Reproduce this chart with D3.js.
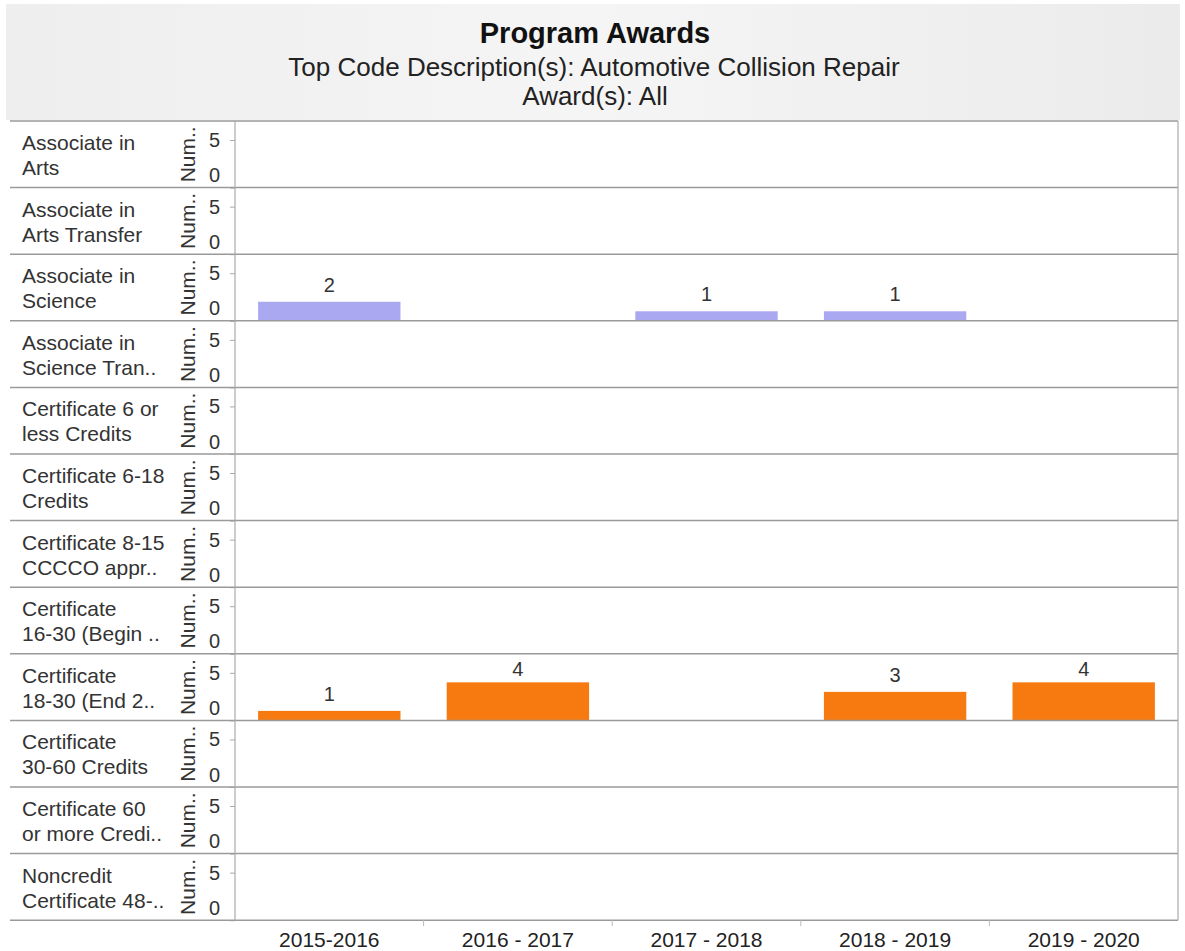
<!DOCTYPE html>
<html>
<head>
<meta charset="utf-8">
<script src="https://cdn.jsdelivr.net/npm/d3@7/dist/d3.min.js"></script>
<style>
  body { margin: 0; background: #fff; }
  text { font-family: "Liberation Sans", Arial, sans-serif; }
</style>
</head>
<body>
<svg width="1185" height="951"></svg>
<script>
// award types (row facets), each row shows counts per academic year
const awards = [
  ["Associate in", "Arts"],
  ["Associate in", "Arts Transfer"],
  ["Associate in", "Science"],
  ["Associate in", "Science Tran.."],
  ["Certificate 6 or", "less Credits"],
  ["Certificate 6-18", "Credits"],
  ["Certificate 8-15", "CCCCO appr.."],
  ["Certificate", "16-30 (Begin .."],
  ["Certificate", "18-30 (End 2.."],
  ["Certificate", "30-60 Credits"],
  ["Certificate 60", "or more Credi.."],
  ["Noncredit", "Certificate 48-.."]
];
const years = ["2015-2016", "2016 - 2017", "2017 - 2018", "2018 - 2019", "2019 - 2020"];
const yTicks = [0, 5];

// counts, null = no bar
const assocScience = [2, null, 1, 1, null];
const cert1830 = [1, 4, null, 3, 4];
const empty = [null, null, null, null, null];
const counts = [empty, empty, assocScience, empty, empty, empty, empty, empty, cert1830, empty, empty, empty];
const rowColors = ["#aba8f2", "#aba8f2", "#aba8f2", "#aba8f2",
  "#f77a10", "#f77a10", "#f77a10", "#f77a10", "#f77a10", "#f77a10", "#f77a10", "#f77a10"];

var svg = d3.select("svg"),
    left = 235, right = 1178,
    top0 = 121, rowH = 66.6;

// header band
var grad = svg.append("defs").append("linearGradient").attr("id", "hdr")
  .attr("x1", 0).attr("x2", 1).attr("y1", 0).attr("y2", 0);
grad.append("stop").attr("offset", "0%").attr("stop-color", "#eeeeee");
grad.append("stop").attr("offset", "50%").attr("stop-color", "#f5f5f5");
grad.append("stop").attr("offset", "100%").attr("stop-color", "#ebebeb");
svg.append("rect").attr("x", 6).attr("y", 4).attr("width", 1174).attr("height", 116)
  .attr("fill", "url(#hdr)");

svg.append("text").attr("x", 595).attr("y", 43).attr("text-anchor", "middle")
  .attr("font-size", 29).attr("font-weight", "bold").attr("fill", "#111").text("Program Awards");
svg.append("text").attr("x", 594).attr("y", 76).attr("text-anchor", "middle")
  .attr("font-size", 26).attr("fill", "#222").text("Top Code Description(s): Automotive Collision Repair");
svg.append("text").attr("x", 595).attr("y", 105).attr("text-anchor", "middle")
  .attr("font-size", 26).attr("fill", "#222").text("Award(s): All");

var x = d3.scaleBand().domain(years).range([left, right]).paddingInner(0.245).paddingOuter(0.1225);
var xBand = d3.scaleBand().domain(years).range([left, right]);

var rows = svg.selectAll("g.row").data(awards).enter().append("g")
  .attr("class", "row")
  .attr("transform", function(d, i) { return "translate(0," + (top0 + i * rowH) + ")"; });

var y = d3.scaleLinear().domain([0, 7]).range([rowH, 0]);

rows.each(function(lab, i) {
  var g = d3.select(this);
  // row label
  g.append("text").attr("x", 22).attr("y", 29).attr("font-size", 21).attr("fill", "#333").text(lab[0]);
  g.append("text").attr("x", 22).attr("y", 54).attr("font-size", 21).attr("fill", "#333").text(lab[1]);
  g.append("text").attr("transform", "translate(195," + (rowH / 2) + ") rotate(-90)")
    .attr("text-anchor", "middle").attr("font-size", 21).attr("fill", "#333").text("Num..");

  // y axis
  var ax = g.append("g").attr("transform", "translate(" + left + ",0)")
    .call(d3.axisLeft(y).tickValues(yTicks).tickFormat(d3.format("d")).tickSize(5).tickPadding(10));
  ax.select(".domain").remove();
  ax.selectAll(".tick line").attr("stroke", "#aaa");
  ax.selectAll(".tick text")
    .attr("font-size", 20).attr("fill", "#333")
    .attr("font-family", "Liberation Sans, Arial, sans-serif")
    .attr("dy", function(v) { return v === 0 ? "-0.3em" : "0.32em"; });

  var vals = years.map(function(yr, j) { return {year: yr, v: counts[i][j]}; })
    .filter(function(d) { return d.v !== null; });

  g.selectAll("rect.bar").data(vals).enter().append("rect")
    .attr("class", "bar")
    .attr("x", function(d) { return x(d.year); })
    .attr("width", x.bandwidth())
    .attr("y", function(d) { return y(d.v); })
    .attr("height", function(d) { return y(0) - y(d.v); })
    .attr("fill", rowColors[i]);

  g.selectAll("text.val").data(vals).enter().append("text")
    .attr("class", "val")
    .attr("x", function(d) { return x(d.year) + x.bandwidth() / 2; })
    .attr("y", function(d) { return Math.max(y(d.v) - 10, 22); })
    .attr("text-anchor", "middle").attr("font-size", 20).attr("fill", "#333")
    .text(function(d) { return d.v; });

  // row separator
  g.append("line").attr("x1", 10).attr("x2", right).attr("y1", rowH).attr("y2", rowH)
    .attr("stroke", "#9a9a9a").attr("stroke-width", 1.5);
});

// top line, vertical separators
svg.append("line").attr("x1", 10).attr("x2", right).attr("y1", top0).attr("y2", top0)
  .attr("stroke", "#9a9a9a").attr("stroke-width", 1.5);
svg.append("line").attr("x1", left).attr("x2", left).attr("y1", top0).attr("y2", top0 + 12 * rowH)
  .attr("stroke", "#aaa").attr("stroke-width", 1.2);
svg.append("line").attr("x1", right).attr("x2", right).attr("y1", top0).attr("y2", top0 + 12 * rowH)
  .attr("stroke", "#aaa").attr("stroke-width", 1.2);

// x axis
var bottom = top0 + 12 * rowH;
var xa = svg.append("g").attr("transform", "translate(0," + bottom + ")")
  .call(d3.axisBottom(xBand).tickSize(0).tickPadding(12));
xa.select(".domain").remove();
xa.selectAll(".tick text").attr("font-size", 21).attr("fill", "#222")
  .attr("font-family", "Liberation Sans, Arial, sans-serif");
// small marks between year columns
svg.selectAll("line.sep").data(years.slice(1)).enter().append("line")
  .attr("class", "sep")
  .attr("x1", function(d) { return xBand(d); }).attr("x2", function(d) { return xBand(d); })
  .attr("y1", bottom).attr("y2", bottom + 6)
  .attr("stroke", "#bbb");
</script>
</body>
</html>
